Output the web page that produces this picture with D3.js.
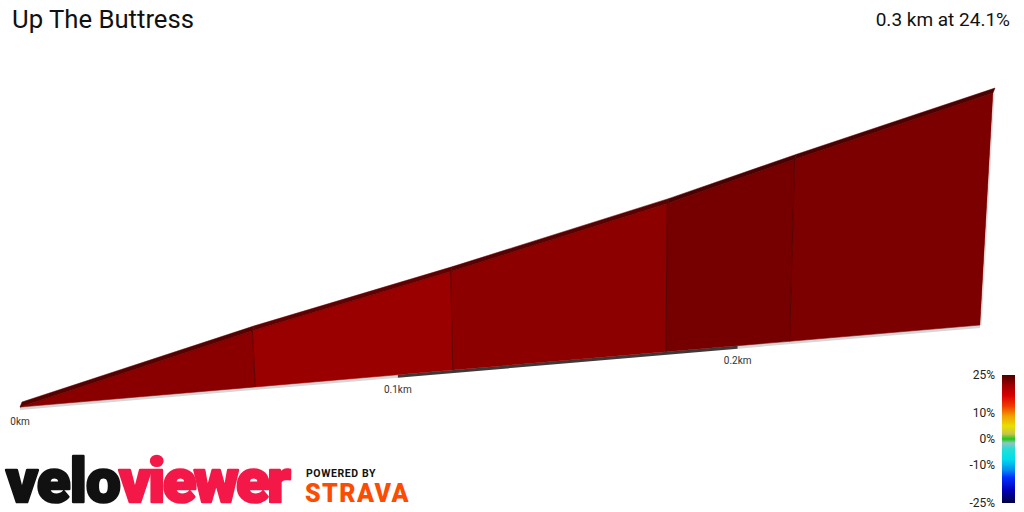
<!DOCTYPE html>
<html>
<head>
<meta charset="utf-8">
<script src="https://cdn.jsdelivr.net/npm/d3@7"></script>
<style>
  body { margin: 0; background: #fff; }
  svg { display: block; font-family: Roboto, "Noto Sans", sans-serif; }
</style>
</head>
<body>
<div id="chart"></div>
<script>
var width = 1024,
    height = 512;

// segment boundaries along the climb (km) and height gained (m)
var distances = [0, 0.061, 0.1155, 0.178, 0.2162, 0.278];
var elevations = [0, 14.5, 26.2, 40.8, 51.0, 67.0];

var kmTicks = [0, 0.1, 0.2];
var kmLabels = ["0km", "0.1km", "0.2km"];

var legendTicks = [25, 10, 0, -10, -25];
var legendStops = [25, 21, 17, 13, 9, 5, 2, 0, -1.5, -4, -8, -12, -15, -20, -25];
var legendColors = ["#4c0000", "#a00000", "#d80000", "#f03800", "#f0a000", "#e8e000", "#c8c44c", "#1ec81e",
                    "#90c4be", "#22e0d8", "#00dcec", "#0090f0", "#0030ff", "#0000b8", "#000045"];

var title = "Up The Buttress";
var summary = "0.3 km at 24.1%";

var svg = d3.select("#chart")
    .append("svg")
    .attr("width", width)
    .attr("height", height);

// simple perspective: things further along shrink
var b = 0.5587;
function depth(d) { return 1 + b * d; }
function u(d) { return d / depth(d); }
var xScale = d3.scaleLinear()
    .domain([0, u(distances[distances.length - 1])])
    .range([20, 980]);
var yBase = d3.scaleLinear()
    .domain([20, 980])
    .range([407, 325]);
var hScale = d3.scaleLinear()
    .domain([0, 67])
    .range([0, 268]);

function basePt(d) {
  var x = xScale(u(d));
  return [x, yBase(x)];
}
function topPt(d, h) {
  var p = basePt(d);
  var hp = hScale(h) / depth(d);
  return [p[0] + (p[0] - 603) * hp * 1.486e-4, p[1] - hp];
}

var segs = d3.range(distances.length - 1).map(function(i) {
  var grade = (elevations[i + 1] - elevations[i]) / ((distances[i + 1] - distances[i]) * 1000) * 100;
  return { i: i, d0: distances[i], d1: distances[i + 1], h0: elevations[i], h1: elevations[i + 1], grade: grade };
});

var faceColor = d3.scaleLinear()
    .domain([21.5, 26.7])
    .range(["#9a0000", "#760000"])
    .clamp(true);

var line = d3.line();

// ground strip below the wall, alternating every 0.1 km
var groundBreaks = [0, 0.1, 0.2, distances[distances.length - 1]];
svg.append("g")
  .selectAll("path")
  .data(d3.range(groundBreaks.length - 1))
  .enter().append("path")
  .attr("d", function(i) {
    var a = basePt(groundBreaks[i]), c = basePt(groundBreaks[i + 1]);
    return line([a, c, [c[0], c[1] + 3], [a[0], a[1] + 3]]) + "Z";
  })
  .attr("fill", function(i) { return i % 2 ? "#3a3a3a" : "#d6d6d6"; });

// side faces
svg.append("g")
  .selectAll("path")
  .data(segs)
  .enter().append("path")
  .attr("d", function(s) {
    return line([basePt(s.d0), basePt(s.d1), topPt(s.d1, s.h1), topPt(s.d0, s.h0)]) + "Z";
  })
  .attr("fill", function(s) { return faceColor(s.grade); })
  .attr("stroke", function(s) { return faceColor(s.grade); })
  .attr("stroke-width", 0.6);

// road surface on top
svg.append("g")
  .selectAll("path")
  .data(segs)
  .enter().append("path")
  .attr("d", function(s) {
    var a = topPt(s.d0, s.h0), c = topPt(s.d1, s.h1);
    return line([a, c, [c[0] + 2, c[1] - 5], [a[0] + 2, a[1] - 5]]) + "Z";
  })
  .attr("fill", function(s) { return d3.color(faceColor(s.grade)).darker(1.3); })
  .attr("stroke", function(s) { return d3.color(faceColor(s.grade)).darker(1.3); })
  .attr("stroke-width", 0.5);

// edges between segments
svg.append("g")
  .selectAll("line")
  .data(distances.slice(1, -1).map(function(d, i) { return [d, elevations[i + 1]]; }))
  .enter().append("line")
  .attr("x1", function(p) { return basePt(p[0])[0]; })
  .attr("y1", function(p) { return basePt(p[0])[1]; })
  .attr("x2", function(p) { return topPt(p[0], p[1])[0]; })
  .attr("y2", function(p) { return topPt(p[0], p[1])[1]; })
  .attr("stroke", "#300000")
  .attr("stroke-opacity", 0.7)
  .attr("stroke-width", 0.8);

// light end edge
var last = distances.length - 1;
svg.append("line")
  .attr("x1", basePt(distances[last])[0] + 1)
  .attr("y1", basePt(distances[last])[1])
  .attr("x2", topPt(distances[last], elevations[last])[0] + 1)
  .attr("y2", topPt(distances[last], elevations[last])[1])
  .attr("stroke", "#e6d8d8")
  .attr("stroke-width", 1.2);

// distance labels
svg.append("g")
  .selectAll("text")
  .data(kmTicks)
  .enter().append("text")
  .attr("x", function(d) { return basePt(d)[0]; })
  .attr("y", function(d) { return basePt(d)[1] + 18; })
  .attr("text-anchor", "middle")
  .attr("font-size", 10)
  .attr("fill", "#333")
  .text(function(d, i) { return kmLabels[i]; });

// titles
svg.append("text")
  .attr("x", 12)
  .attr("y", 28)
  .attr("font-size", 25.7)
  .attr("fill", "#111")
  .text(title);
svg.append("text")
  .attr("x", 1010)
  .attr("y", 26)
  .attr("text-anchor", "end")
  .attr("font-size", 19)
  .attr("fill", "#111")
  .text(summary);

// grade legend
var yLeg = d3.scaleLinear().domain([25, -25]).range([375, 503]);
var grad = svg.append("defs").append("linearGradient")
    .attr("id", "gradeGrad")
    .attr("x1", 0).attr("y1", 0).attr("x2", 0).attr("y2", 1);
grad.selectAll("stop")
  .data(legendStops)
  .enter().append("stop")
  .attr("offset", function(v) { return (25 - v) / 50; })
  .attr("stop-color", function(v, i) { return legendColors[i]; });
svg.append("rect")
  .attr("x", 1002)
  .attr("y", yLeg(25))
  .attr("width", 13)
  .attr("height", yLeg(-25) - yLeg(25))
  .attr("fill", "url(#gradeGrad)");
svg.append("g")
  .selectAll("text")
  .data(legendTicks)
  .enter().append("text")
  .attr("x", 995)
  .attr("y", function(v) { return yLeg(v) + 4; })
  .attr("text-anchor", "end")
  .attr("font-size", 12)
  .attr("fill", "#222")
  .text(function(v) { return v + "%"; });

// logos: squeeze letters together with letter-spacing to fit the target width
function fitText(sel, target) {
  var n = sel.text().length;
  var natural = sel.node().getComputedTextLength();
  sel.attr("letter-spacing", (target - natural) / n);
}
[["velo", 6, 114, "#111"], ["viewer", 119, 169, "#f41848"]].forEach(function(w) {
  var t = svg.append("text")
    .attr("x", w[1])
    .attr("y", 502)
    .attr("font-size", 62)
    .attr("font-weight", 900)
    .attr("fill", w[3])
    .attr("stroke", w[3])
    .attr("stroke-width", 2.5)
    .attr("stroke-linejoin", "round")
    .text(w[0]);
  fitText(t, w[2]);
});

var pb = svg.append("text")
  .attr("x", 306)
  .attr("y", 477)
  .attr("font-size", 10.5)
  .attr("font-weight", 700)
  .attr("fill", "#111")
  .text("POWERED BY");
fitText(pb, 70);
var st = svg.append("text")
  .attr("x", 305)
  .attr("y", 502)
  .attr("font-size", 25)
  .attr("font-weight", 900)
  .attr("fill", "#fc4c02")
  .text("STRAVA");
fitText(st, 105);
</script>
</body>
</html>
